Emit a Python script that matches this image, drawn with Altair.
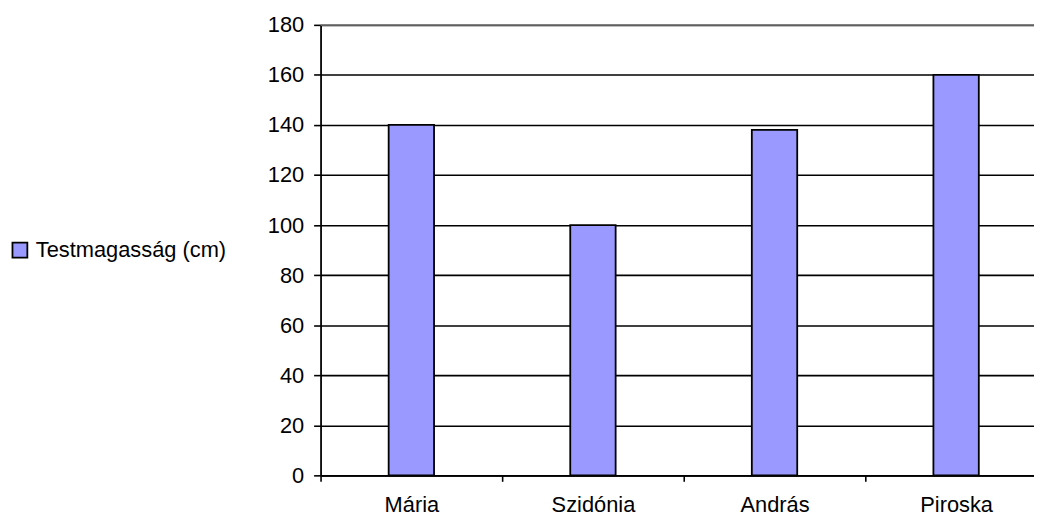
import altair as alt
import pandas as pd

names = ["Mária", "Szidónia", "András", "Piroska"]
heights = [140, 100, 138, 160]
series_name = "Testmagasság (cm)"
y_ticks = [0, 20, 40, 60, 80, 100, 120, 140, 160, 180]

df = pd.DataFrame({"name": names, "height": heights, "series": [series_name] * len(names)})
FONT = "Liberation Sans"
FS = 22

bars = alt.Chart(df).mark_bar(stroke="black", strokeWidth=1.8,
                              width=alt.RelativeBandSize(0.25)).encode(
    x=alt.X("name:N", sort=names,
            scale=alt.Scale(paddingInner=0, paddingOuter=0, range=[0, 732]),
            axis=alt.Axis(title=None, labelAngle=0, tickBand="extent", tickSize=6,
                          tickColor="black", tickWidth=1.6, domainColor="black",
                          domainWidth=1.6, labelFontSize=FS, labelFont=FONT,
                          labelColor="black", labelPadding=13, grid=False)),
    y=alt.Y("height:Q", scale=alt.Scale(domain=[0, 180], nice=False),
            axis=alt.Axis(title=None, values=y_ticks, tickSize=7, tickColor="black",
                          tickWidth=1.6, domainColor="black", domainWidth=1.8,
                          gridColor="black", gridWidth=1.6, gridOpacity=1,
                          labelFontSize=FS, labelFont=FONT, labelColor="black",
                          labelPadding=10)),
    color=alt.Color("series:N", scale=alt.Scale(range=["#9999FF"]),
                    legend=alt.Legend(title=None, orient="none", legendX=-314, legendY=216,
                                      symbolType="square", symbolSize=225,
                                      symbolStrokeColor="black", symbolStrokeWidth=1.8,
                                      symbolFillColor="#9999FF", symbolOpacity=1,
                                      labelFontSize=FS, labelFont=FONT, labelColor="black",
                                      labelOffset=5, labelLimit=400)),
)

top_line = alt.Chart(pd.DataFrame({"y": [180]})).mark_rule(color="#808080", strokeWidth=1.6).encode(
    y=alt.Y("y:Q")
)

chart = alt.layer(bars, top_line).properties(
    width=719, height=454,
    background="white",
    autosize=alt.AutoSizeParams(type="none"),
    padding={"left": 315, "top": 15, "right": 0, "bottom": 43},
).configure_view(stroke=None)

chart.save("out.html", embed_options={"renderer": "svg", "actions": False})
